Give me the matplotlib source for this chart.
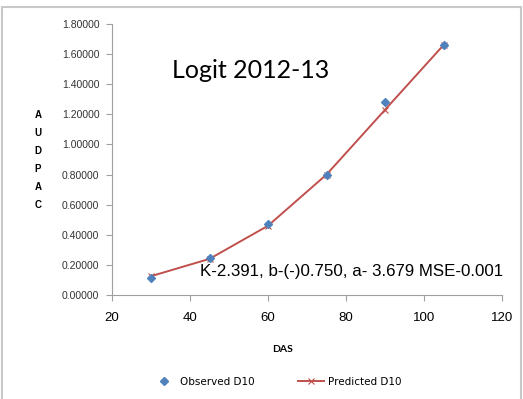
import matplotlib.pyplot as plt
from matplotlib.lines import Line2D
from matplotlib.patches import Rectangle

das = [30, 45, 60, 75, 90, 105]
observed_d10 = [0.11, 0.245, 0.47, 0.80, 1.28, 1.66]
predicted_d10 = [0.125, 0.24, 0.46, 0.80, 1.23, 1.66]

y_ticks = [0.0, 0.2, 0.4, 0.6, 0.8, 1.0, 1.2, 1.4, 1.6, 1.8]
x_ticks = [20, 40, 60, 80, 100, 120]

fig = plt.figure(figsize=(5.23, 3.99), dpi=100)
W, H = 523, 399
ax = fig.add_axes([112 / W, 1 - 295 / H, (502 - 112) / W, (295 - 24) / H])

ax.plot(das, predicted_d10, color='#c0504d', lw=1.4, marker='x', ms=4, mew=0.8, zorder=3)
ax.scatter(das, observed_d10, marker='D', s=16, color='#4f81bd', zorder=4)

ax.set_xlim(20, 120)
ax.set_ylim(0, 1.8)
ax.set_xticks(x_ticks)
ax.set_yticks(y_ticks)
ax.set_yticklabels([f'{v:.5f}' for v in y_ticks], fontsize=7.5, color='#333333',
                   family='Liberation Sans')
ax.set_xticklabels([str(v) for v in x_ticks], fontsize=9.5, family='Liberation Sans')

for side in ('top', 'right'):
    ax.spines[side].set_visible(False)
for side in ('left', 'bottom'):
    ax.spines[side].set_color('#a0a0a0')
ax.tick_params(axis='both', direction='out', length=4, color='#a0a0a0')
ax.tick_params(axis='y', pad=5)
ax.tick_params(axis='x', pad=8)

ax.text(35.4, 1.44, 'Logit 2012-13', fontsize=18, family='Lato')
ax.text(120.3, 0.153, 'K-2.391, b-(-)0.750, a- 3.679 MSE-0.001',
        fontsize=12.2, family='Liberation Sans', ha='right', va='center', clip_on=False)

fig.text(38 / W, 1 - 160 / H, 'A\nU\nD\nP\nA\nC', fontsize=7, fontweight='bold',
         ha='center', va='center', linespacing=2.0, family='Liberation Sans')
fig.text(283 / W, 1 - 349 / H, 'DAS', fontsize=7.5, fontweight='bold',
         ha='center', va='center', family='Lato')

handles = [
    Line2D([], [], ls='none', marker='D', ms=4, color='#4f81bd'),
    Line2D([], [], color='#c0504d', lw=1.4, marker='x', ms=4, mew=0.8),
]
fig.legend(handles, ['Observed D10', 'Predicted D10'], loc='center',
           bbox_to_anchor=(276 / W, 1 - 382 / H), ncol=2, frameon=False,
           fontsize=7.5, handlelength=2.5, columnspacing=4.2, handletextpad=0.3)

fig.patches.append(Rectangle((2 / W, -0.01), (519 / W), 1 - 7 / H + 0.01,
                             transform=fig.transFigure, fill=False,
                             edgecolor='#c8c8c8', lw=1.5))

fig.savefig('out.png', dpi=100)
